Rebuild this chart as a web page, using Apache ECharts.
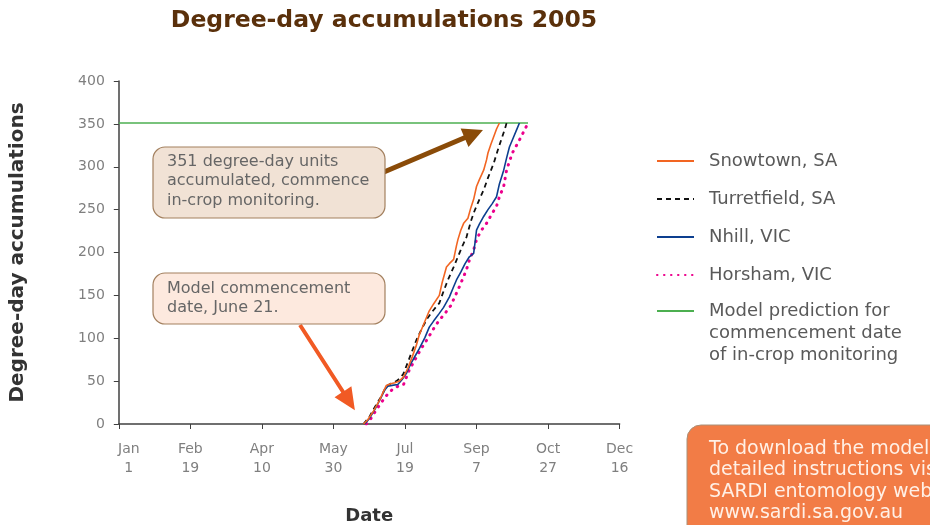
<!DOCTYPE html>
<html><head><meta charset="utf-8">
<script src="https://cdn.jsdelivr.net/npm/echarts@6/dist/echarts.min.js"></script>
<style>html,body{margin:0;padding:0;background:#fff}#c{width:930px;height:525px}</style>
</head><body><div id="c"></div>
<script>
// x = days after Jan 1 2005; tick labels every 50 days
const tickLabels = ['Jan\n1','Feb\n19','Apr\n10','May\n30','Jul\n19','Sep\n7','Oct\n27','Dec\n16'];
const yTicks = [0,50,100,150,200,250,300,350,400];
const targetDD = 351;
const snowtown = [[171,0],[174,5],[178,15],[182,27],[185,38],[187,45],[190,47],[193,48],[196,50],[199,55],[202,65],[205,78],[208,92],[210,104],[213,116],[217,132],[220,140],[224,150],[226,165],[229,183],[231,187],[234,192],[236,208],[237,215],[239,226],[241,234],[244,240],[246,252],[248,262],[250,277],[252,285],[255,296],[257,308],[258,316],[260,326],[262,335],[264,344],[266,351]];
const turretfield = [[171,0],[175,8],[179,20],[183,31],[187,44],[190,47],[194,50],[197,54],[199,59],[202,72],[205,85],[208,98],[212,112],[216,124],[220,133],[224,141],[227,155],[230,168],[234,183],[237,195],[240,207],[243,218],[246,236],[248,246],[251,258],[255,273],[258,287],[262,304],[265,320],[268,335],[270,345],[271,351]];
const nhill = [[172,0],[175,6],[179,17],[183,30],[186,40],[188,44],[191,45],[195,46],[198,52],[201,59],[204,70],[207,79],[210,88],[214,101],[217,113],[220,120],[224,129],[227,136],[231,148],[234,160],[236,168],[239,177],[242,187],[245,195],[248,199],[249,212],[250,226],[252,233],[255,242],[258,250],[261,257],[264,265],[266,280],[269,296],[271,310],[273,323],[276,335],[278,343],[280,351]];
const horsham = [[173,0],[176,6],[179,14],[183,24],[187,33],[191,40],[195,44],[199,46],[203,63],[207,75],[211,87],[216,100],[221,114],[224,121],[228,129],[232,138],[235,149],[238,160],[240,168],[243,180],[245,191],[248,203],[250,215],[253,225],[257,234],[260,243],[264,254],[266,265],[269,277],[271,296],[273,306],[275,316],[279,328],[283,341],[286,351]];
const modelPrediction = [[0,targetDD],[286,targetDD]];
const modelName = 'Model prediction for\ncommencement date\nof in-crop monitoring';

const FONT = 'DejaVu Sans';
const legendText = {fontFamily:FONT,fontSize:18,color:'#595959',lineHeight:22,padding:[0,0,0,10]};
const chart = echarts.init(document.getElementById('c'), null, {renderer:'canvas'});
const option = {
  animation:false,
  title:{text:'Degree-day accumulations 2005',left:379,top:4,textAlign:'center',
    textStyle:{fontFamily:FONT,fontSize:23.5,fontWeight:'bold',color:'#5a300b'}},
  grid:{left:118.8,right:310.4,top:81,bottom:101,outerBoundsMode:'none',containLabel:false},
  legend:[
    {orient:'vertical',left:651,top:145,itemWidth:37,itemHeight:12,itemGap:16,
      itemStyle:{opacity:0},textStyle:legendText,
      data:['Snowtown, SA','Turretfield, SA','Nhill, VIC','Horsham, VIC']},
    {orient:'vertical',left:651,top:251,itemWidth:37,itemHeight:12,
      itemStyle:{opacity:0},textStyle:legendText,
      formatter:name=>' \n \n'+name,
      data:[modelName]}
  ],
  xAxis:{type:'value',min:0,max:350,interval:50,
    name:'Date',nameLocation:'middle',nameGap:83,
    nameTextStyle:{fontFamily:FONT,fontSize:18,fontWeight:'bold',color:'#333'},
    axisLine:{lineStyle:{color:'#404040',width:1.5}},
    axisTick:{lineStyle:{color:'#404040'},length:5},
    splitLine:{show:false},
    axisLabel:{fontFamily:FONT,fontSize:14,color:'#7f7f7f',lineHeight:19,margin:16,
      formatter:v=>{const t=tickLabels[Math.round(v/50)];
        return v===0 ? t.split('\n').map(s=>'{f|'+s+'}').join('\n') : t;},
      rich:{f:{fontFamily:FONT,fontSize:14,color:'#7f7f7f',lineHeight:19,padding:[0,0,0,20]}}}},
  yAxis:{type:'value',min:0,max:400,interval:50,
    name:'Degree-day accumulations',nameLocation:'middle',nameRotate:90,nameGap:91,
    nameTextStyle:{fontFamily:FONT,fontSize:20,fontWeight:'bold',color:'#333'},
    axisLine:{show:true,lineStyle:{color:'#404040',width:1.5}},
    axisTick:{show:true,lineStyle:{color:'#404040'},length:5},
    splitLine:{show:false},
    axisLabel:{fontFamily:FONT,fontSize:14,color:'#7f7f7f',margin:14}},
  series:[
    {name:'Snowtown, SA',type:'line',data:snowtown,showSymbol:false,symbol:'none',
      lineStyle:{color:'#f26522',width:1.6},itemStyle:{color:'#f26522'},z:4},
    {name:'Turretfield, SA',type:'line',data:turretfield,showSymbol:false,symbol:'none',
      lineStyle:{color:'#111',width:1.8,type:[5,4]},itemStyle:{color:'#111'},z:3},
    {name:'Nhill, VIC',type:'line',data:nhill,showSymbol:false,symbol:'none',
      lineStyle:{color:'#0d3f8f',width:1.6},itemStyle:{color:'#0d3f8f'},z:3},
    {name:'Horsham, VIC',type:'line',data:horsham,showSymbol:false,symbol:'none',
      lineStyle:{color:'#ec008c',width:3,type:[0.5,6.5],cap:'round'},itemStyle:{color:'#ec008c'},z:2},
    {name:modelName,type:'line',data:modelPrediction,showSymbol:false,symbol:'none',
      lineStyle:{color:'#4caf50',width:1.5},itemStyle:{color:'#4caf50'},z:1}
  ]
};
chart.setOption(option);

function arrow(x1,y1,x2,y2,w,hl,hw,color){
  const dx=x2-x1, dy=y2-y1, L=Math.hypot(dx,dy), ux=dx/L, uy=dy/L, px=-uy, py=ux;
  const bx=x2-ux*hl, by=y2-uy*hl;
  return {type:'polygon',z:20,shape:{points:[
    [x1+px*w/2,y1+py*w/2],[bx+px*w/2,by+py*w/2],[bx+px*hw/2,by+py*hw/2],[x2,y2],
    [bx-px*hw/2,by-py*hw/2],[bx-px*w/2,by-py*w/2],[x1-px*w/2,y1-py*w/2]]},
    style:{fill:color}};
}
const tip1 = chart.convertToPixel({gridIndex:0},[254.5,343]);
const tip2 = chart.convertToPixel({gridIndex:0},[165,16]);
chart.setOption({graphic:[
  arrow(384,172,tip1[0],tip1[1],5,20,20,'#8a4b08'),
  arrow(300,325,tip2[0],tip2[1],4,22,20,'#f15a24'),
  {type:'rect',z:21,shape:{x:153,y:147,width:232,height:71,r:12},style:{fill:'#f1e2d5',stroke:'#a3805f',lineWidth:1.2}},
  {type:'text',z:22,left:167,top:152,style:{text:'351 degree-day units\naccumulated, commence\nin-crop monitoring.',font:'16px "DejaVu Sans"',fill:'#666',lineHeight:19.5}},
  {type:'rect',z:21,shape:{x:153,y:273,width:232,height:51,r:12},style:{fill:'#fde9de',stroke:'#a3805f',lineWidth:1.2}},
  {type:'text',z:22,left:167,top:279,style:{text:'Model commencement\ndate, June 21.',font:'16px "DejaVu Sans"',fill:'#666',lineHeight:19.5}},
  {type:'rect',z:21,shape:{x:687,y:425,width:270,height:120,r:14},style:{fill:'#f27c46',stroke:'#a89078',lineWidth:1}},
  {type:'text',z:22,left:709,top:438,style:{text:'To download the model\ndetailed instructions visit\nSARDI entomology website\nwww.sardi.sa.gov.au',font:'19px "DejaVu Sans"',fill:'#fff0e6',lineHeight:21.5}}
]});
</script></body></html>
